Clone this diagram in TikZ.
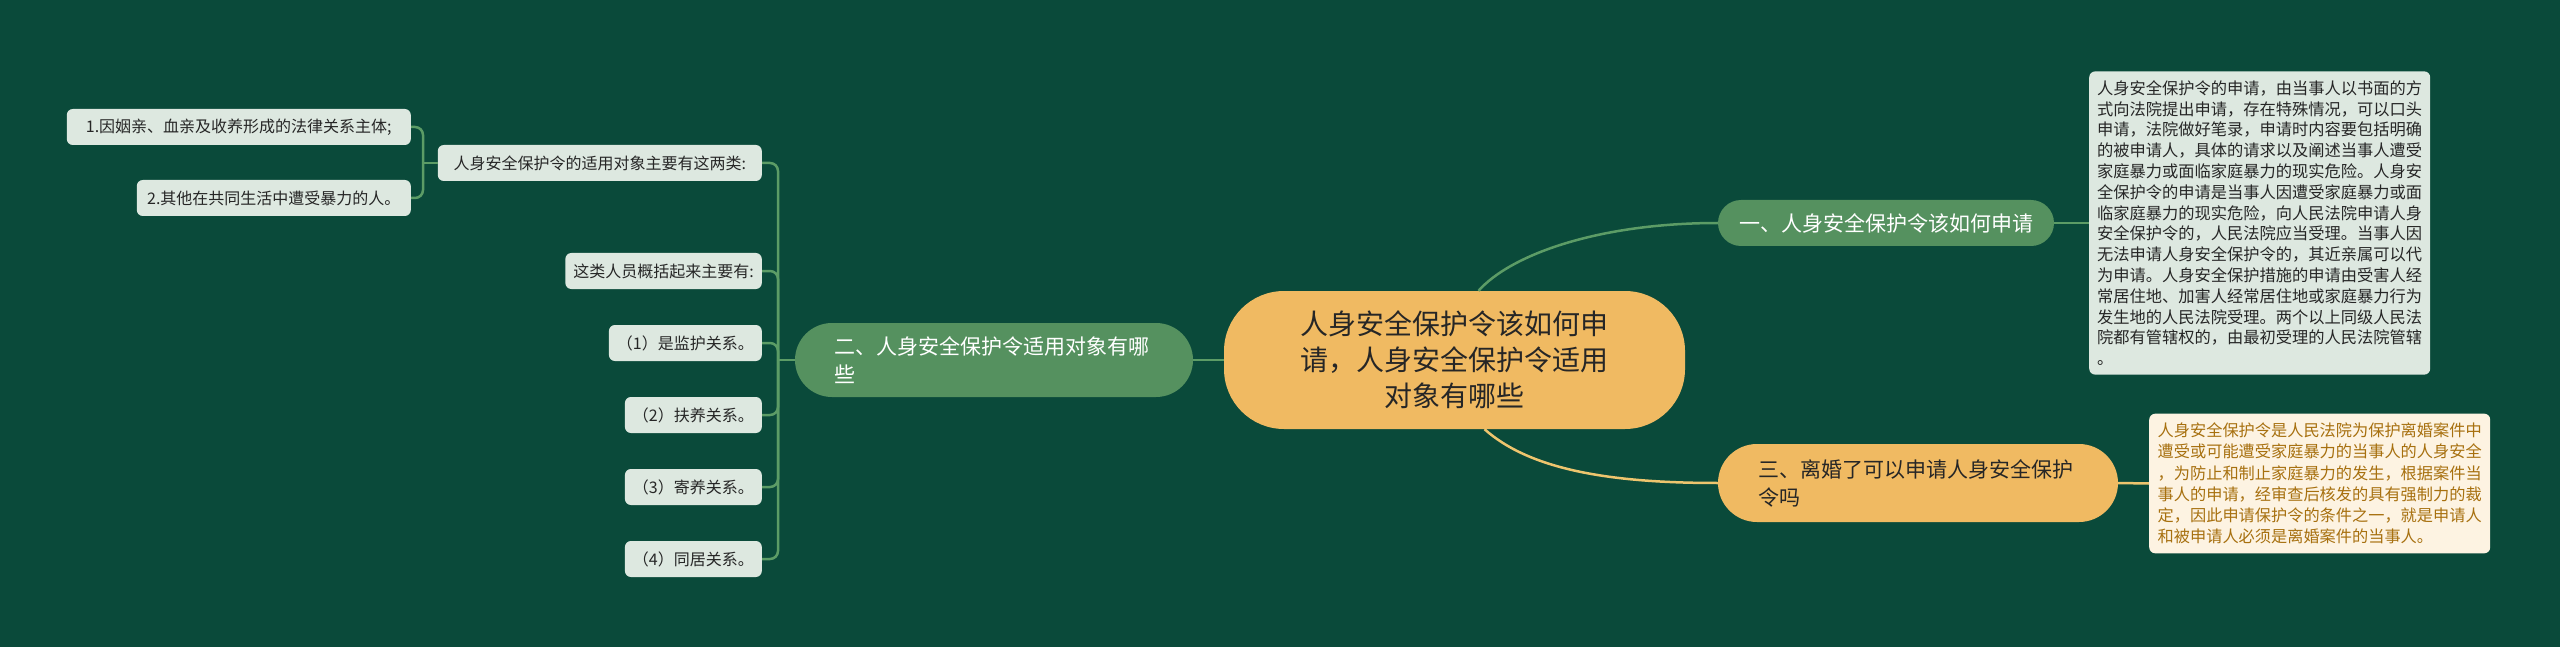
\documentclass[tikz,border=0pt]{standalone}
\usepackage{fontspec}
\setmainfont{Noto Sans CJK SC}

\definecolor{bgcol}{HTML}{0A4A3A}
\definecolor{branchgreen}{HTML}{55915F}
\definecolor{linegreen}{HTML}{5C9C66}
\definecolor{rootorange}{HTML}{F0BA62}
\definecolor{lineorange}{HTML}{EEC56E}
\definecolor{leaffill}{HTML}{DDE8E0}
\definecolor{creamfill}{HTML}{FDF3E2}
\definecolor{creamtext}{HTML}{A7700F}
\definecolor{darktext}{HTML}{262626}

\tikzset{
  leaf/.style={fill=leaffill, rounded corners=6pt, inner xsep=8pt, inner ysep=0pt,
    minimum height=36pt, text=darktext, font=\fontsize{16}{20}\selectfont},
  greenbranch/.style={fill=branchgreen, text=white, align=left, font=\fontsize{21}{28}\selectfont},
  orangebranch/.style={fill=rootorange, text=darktext, align=left, font=\fontsize{21}{28}\selectfont},
  rootbox/.style={fill=rootorange, rounded corners=60pt, minimum width=461pt, minimum height=138pt,
    align=center, text=darktext, font=\fontsize{28}{36}\selectfont},
  notebox/.style={fill=leaffill, rounded corners=6pt, inner xsep=8pt, inner ysep=9pt, align=left,
    text=darktext, font=\fontsize{16.25}{20.8}\selectfont},
  creambox/.style={fill=creamfill, rounded corners=6pt, inner xsep=8.5pt, inner ysep=9pt, align=left,
    text=creamtext, font=\fontsize{16.2}{21.3}\selectfont},
  greenline/.style={draw=linegreen, line width=2.5pt},
  orangeline/.style={draw=lineorange, line width=2.5pt}
}

\begin{document}
\begin{tikzpicture}[x=1pt,y=-1pt]
\fill[bgcol] (0,0) rectangle (2560,647);
\useasboundingbox (0,0) rectangle (2560,647);

% middle
\node[rootbox] (root) at (1454.5,360) {人身安全保护令该如何申\\请，人身安全保护令适用\\对象有哪些};

% branches
\node[greenbranch, text width=320pt, inner xsep=39pt, minimum height=74pt, rounded corners=37pt]
  (topic2) at (994,360) {二、人身安全保护令适用对象有哪\\些};
\node[greenbranch, inner xsep=21pt, minimum height=46pt, rounded corners=23pt]
  (topic1) at (1886,223) {一、人身安全保护令该如何申请};
\node[orangebranch, text width=320pt, inner xsep=40pt, minimum height=78pt, rounded corners=39pt]
  (topic3) at (1918,483) {三、离婚了可以申请人身安全保护\\令吗};

% notes on the right
\node[notebox, anchor=west] (note1) at (2089,223) {人身安全保护令的申请，由当事人以书面的方\\
式向法院提出申请，存在特殊情况，可以口头\\
申请，法院做好笔录，申请时内容要包括明确\\
的被申请人，具体的请求以及阐述当事人遭受\\
家庭暴力或面临家庭暴力的现实危险。人身安\\
全保护令的申请是当事人因遭受家庭暴力或面\\
临家庭暴力的现实危险，向人民法院申请人身\\
安全保护令的，人民法院应当受理。当事人因\\
无法申请人身安全保护令的，其近亲属可以代\\
为申请。人身安全保护措施的申请由受害人经\\
常居住地、加害人经常居住地或家庭暴力行为\\
发生地的人民法院受理。两个以上同级人民法\\
院都有管辖权的，由最初受理的人民法院管辖\\
。};
\node[creambox, anchor=west] (note3) at (2149,483.5) {人身安全保护令是人民法院为保护离婚案件中\\
遭受或可能遭受家庭暴力的当事人的人身安全\\
，为防止和制止家庭暴力的发生，根据案件当\\
事人的申请，经审查后核发的具有强制力的裁\\
定，因此申请保护令的条件之一，就是申请人\\
和被申请人必须是离婚案件的当事人。};

% leaves on the left
\node[leaf, anchor=east, minimum width=324pt] (kinds) at (762,163) {人身安全保护令的适用对象主要有这两类:};
\node[leaf, anchor=east, minimum width=344pt] (kind1) at (411,127) {1.因姻亲、血亲及收养形成的法律关系主体;};
\node[leaf, anchor=east, minimum width=274pt] (kind2) at (411,198) {2.其他在共同生活中遭受暴力的人。};
\node[leaf, anchor=east] (sum) at (762,271) {这类人员概括起来主要有:};
\node[leaf, anchor=east] (rel1) at (762,343) {（1）是监护关系。};
\node[leaf, anchor=east] (rel2) at (762,415) {（2）扶养关系。};
\node[leaf, anchor=east] (rel3) at (762,487) {（3）寄养关系。};
\node[leaf, anchor=east] (rel4) at (762,559) {（4）同居关系。};

% connectors
\coordinate (j2) at (778,360);
\coordinate (j1) at (423,163);
\draw[greenline] (root.west) -- (topic2.east);
\draw[greenline] (topic2.west) -- (j2);
\foreach \n in {kinds,sum,rel1,rel2,rel3,rel4}
  \draw[greenline, rounded corners=8pt] (j2) |- (\n.east);
\draw[greenline] (kinds.west) -- (j1);
\foreach \n in {kind1,kind2}
  \draw[greenline, rounded corners=8pt] (j1) |- (\n.east);

\draw[greenline] ([xshift=24pt]root.north) .. controls +(32,-36) and +(-120,0) .. (topic1.west);
\draw[greenline] (topic1.east) -- (note1.west);
\draw[orangeline] ([xshift=30pt]root.south) .. controls +(45,40) and +(-110,0) .. (topic3.west);
\draw[orangeline] (topic3.east) -- (note3.west);
\end{tikzpicture}
\end{document}
